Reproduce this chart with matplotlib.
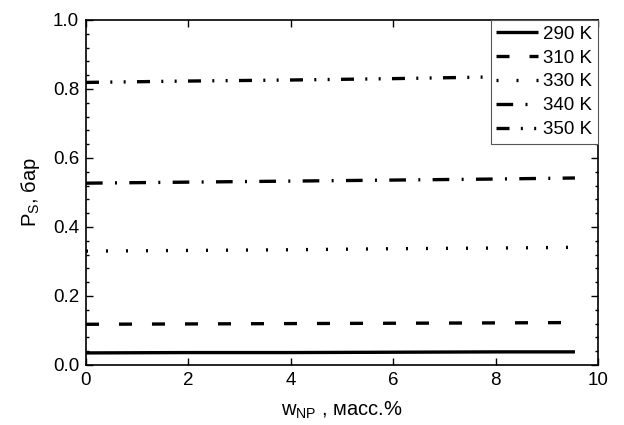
import matplotlib
matplotlib.use('Agg')
import matplotlib.pyplot as plt
from matplotlib.ticker import MultipleLocator, AutoMinorLocator

plt.rcParams['font.family'] = ['Liberation Sans', 'DejaVu Sans']
plt.rcParams['mathtext.fontset'] = 'custom'
plt.rcParams['mathtext.rm'] = 'Liberation Sans'
plt.rcParams['mathtext.it'] = 'Liberation Sans'
plt.rcParams['mathtext.default'] = 'regular'

# nanoparticle content, wt.%
w_np = [0, 2, 4, 6, 8, 9.55]

# saturated vapour pressure, bar
p_290 = [0.035, 0.036, 0.036, 0.037, 0.038, 0.038]
p_310 = [0.118, 0.119, 0.120, 0.121, 0.122, 0.123]
p_330 = [0.330, 0.332, 0.334, 0.337, 0.339, 0.341]
p_340 = [0.527, 0.530, 0.533, 0.536, 0.539, 0.542]
p_350 = [0.819, 0.823, 0.826, 0.830, 0.835, 0.838]

labels = ['290 K', '310 K', '330 K', '340 K', '350 K']

# dash patterns in units of line width
styles = [
    '-',
    (0, (3.9, 6.0)),
    (0, (0.6, 5.4)),
    (0, (5.0, 3.7, 0.6, 3.7)),
    (0, (3.9, 3.4, 0.6, 3.4, 0.6, 3.4)),
]

fig = plt.figure(figsize=(6.24, 4.25), dpi=100)
ax = fig.add_axes([0.1378, 0.1412, 0.8205, 0.8118])

for p, lab, ls in zip([p_290, p_310, p_330, p_340, p_350], labels, styles):
    ax.plot(w_np, p, color='black', lw=2.4, linestyle=ls, label=lab,
            dash_capstyle='butt', solid_capstyle='butt')

ax.set_xlim(0, 10)
ax.set_ylim(0, 1.0)
ax.xaxis.set_major_locator(MultipleLocator(2))
ax.yaxis.set_major_locator(MultipleLocator(0.2))
ax.yaxis.set_minor_locator(AutoMinorLocator(5))
ax.set_yticklabels([f'{v:.1f}' for v in ax.get_yticks()])

ax.tick_params(which='both', direction='in', top=True, right=True,
               labelsize=13.5, width=1.0)
ax.tick_params(which='major', length=5, pad=5)
ax.tick_params(which='minor', length=2.5)
for s in ax.spines.values():
    s.set_linewidth(1.2)

ax.set_xlabel(r'w$_{NP}$ , масс.%', fontsize=14.5, labelpad=8)
ax.set_ylabel(r'P$_{S}$, бар', fontsize=14.5, labelpad=8)

leg = ax.legend(loc='upper right', fontsize=13.5, borderaxespad=0,
                handlelength=2.2, handletextpad=0.3, borderpad=0.3,
                labelspacing=0.36, fancybox=False, framealpha=1,
                edgecolor='#555555')
leg.get_frame().set_linewidth(0.8)

fig.savefig('out.png', dpi=100)
